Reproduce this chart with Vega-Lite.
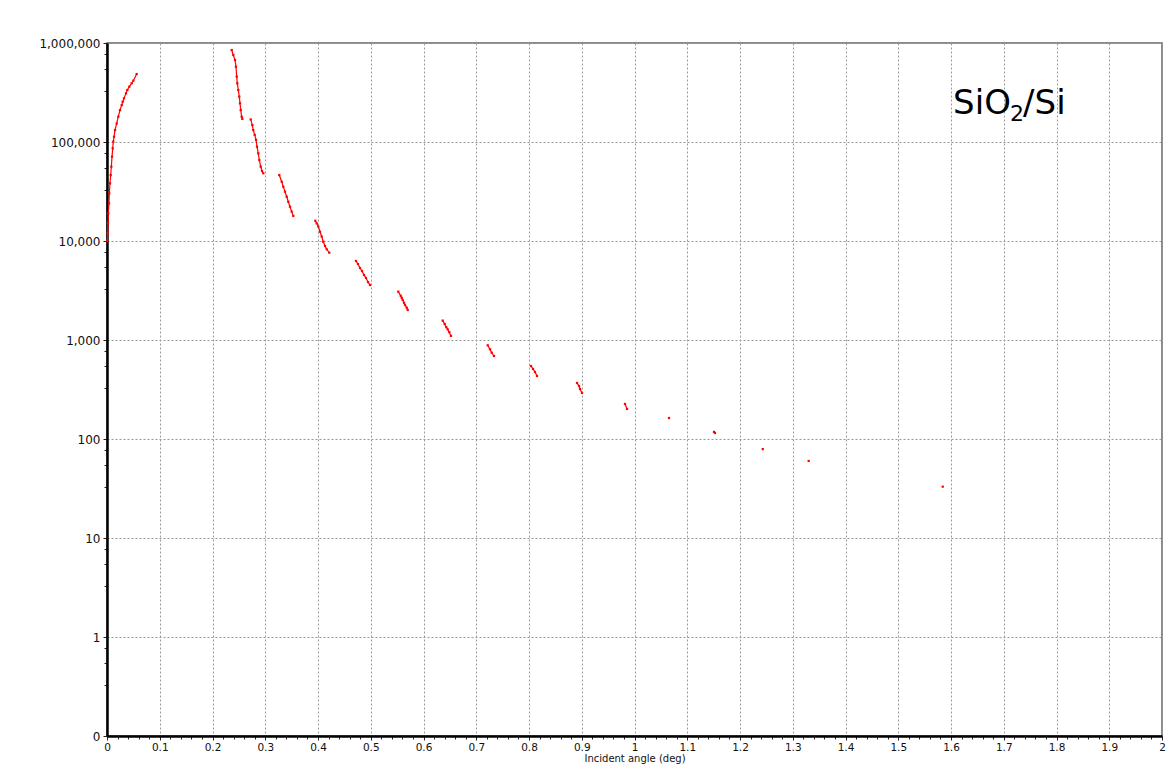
{
  "$schema": "https://vega.github.io/schema/vega-lite/v6.json",
  "width": 1055,
  "height": 693,
  "autosize": {"type": "none"},
  "padding": {"left": 107, "top": 43, "right": 12, "bottom": 29},
  "background": "white",
  "config": {
    "view": {"stroke": "#666", "strokeWidth": 1.5},
    "axis": {
      "labelFont": "DejaVu Sans",
      "labelFontSize": 11,
      "labelColor": "#111",
      "titleFont": "DejaVu Sans",
      "titleFontSize": 10,
      "titleFontWeight": "normal",
      "titleColor": "#111",
      "domainColor": "#000",
      "domainWidth": 2.5,
      "tickColor": "#222",
      "tickWidth": 1,
      "tickSize": 4,
      "gridColor": "#999",
      "gridDash": [2, 2],
      "gridWidth": 1,
      "labelFlush": false,
      "labelOverlap": false
    }
  },
  "datasets": {
    "pts": [
      {"seg": 0, "angle": 0.0006, "intensity": 10000},
      {"seg": 0, "angle": 0.0013, "intensity": 12000},
      {"seg": 0, "angle": 0.0019, "intensity": 15100},
      {"seg": 0, "angle": 0.0025, "intensity": 19000},
      {"seg": 0, "angle": 0.0038, "intensity": 24000},
      {"seg": 0, "angle": 0.0044, "intensity": 30300},
      {"seg": 0, "angle": 0.0057, "intensity": 38300},
      {"seg": 0, "angle": 0.0070, "intensity": 46400},
      {"seg": 0, "angle": 0.0082, "intensity": 56300},
      {"seg": 0, "angle": 0.0095, "intensity": 71100},
      {"seg": 0, "angle": 0.0108, "intensity": 86300},
      {"seg": 0, "angle": 0.0119, "intensity": 100700},
      {"seg": 0, "angle": 0.0133, "intensity": 113000},
      {"seg": 0, "angle": 0.0152, "intensity": 132000},
      {"seg": 0, "angle": 0.0184, "intensity": 154000},
      {"seg": 0, "angle": 0.0214, "intensity": 180000},
      {"seg": 0, "angle": 0.0246, "intensity": 210000},
      {"seg": 0, "angle": 0.0279, "intensity": 236000},
      {"seg": 0, "angle": 0.0298, "intensity": 255000},
      {"seg": 0, "angle": 0.0322, "intensity": 276000},
      {"seg": 0, "angle": 0.0360, "intensity": 310000},
      {"seg": 0, "angle": 0.0385, "intensity": 335000},
      {"seg": 0, "angle": 0.0423, "intensity": 362000},
      {"seg": 0, "angle": 0.0468, "intensity": 392000},
      {"seg": 0, "angle": 0.0499, "intensity": 416000},
      {"seg": 0, "angle": 0.0563, "intensity": 486000},
      {"seg": 1, "angle": 0.2364, "intensity": 849000},
      {"seg": 1, "angle": 0.2394, "intensity": 757000},
      {"seg": 1, "angle": 0.2427, "intensity": 673000},
      {"seg": 1, "angle": 0.2445, "intensity": 576000},
      {"seg": 1, "angle": 0.2459, "intensity": 457000},
      {"seg": 1, "angle": 0.2470, "intensity": 392000},
      {"seg": 1, "angle": 0.2489, "intensity": 335000},
      {"seg": 1, "angle": 0.2508, "intensity": 287000},
      {"seg": 1, "angle": 0.2521, "intensity": 246000},
      {"seg": 1, "angle": 0.2535, "intensity": 210000},
      {"seg": 1, "angle": 0.2553, "intensity": 180000},
      {"seg": 1, "angle": 0.2565, "intensity": 171000},
      {"seg": 2, "angle": 0.2724, "intensity": 169000},
      {"seg": 2, "angle": 0.2755, "intensity": 148000},
      {"seg": 2, "angle": 0.2773, "intensity": 132000},
      {"seg": 2, "angle": 0.2800, "intensity": 118000},
      {"seg": 2, "angle": 0.2825, "intensity": 105000},
      {"seg": 2, "angle": 0.2844, "intensity": 89700},
      {"seg": 2, "angle": 0.2868, "intensity": 76900},
      {"seg": 2, "angle": 0.2887, "intensity": 65800},
      {"seg": 2, "angle": 0.2914, "intensity": 56300},
      {"seg": 2, "angle": 0.2938, "intensity": 50900},
      {"seg": 2, "angle": 0.2963, "intensity": 48300},
      {"seg": 3, "angle": 0.3266, "intensity": 46400},
      {"seg": 3, "angle": 0.3312, "intensity": 39700},
      {"seg": 3, "angle": 0.3342, "intensity": 35300},
      {"seg": 3, "angle": 0.3374, "intensity": 31500},
      {"seg": 3, "angle": 0.3407, "intensity": 28000},
      {"seg": 3, "angle": 0.3437, "intensity": 24900},
      {"seg": 3, "angle": 0.3469, "intensity": 22200},
      {"seg": 3, "angle": 0.3501, "intensity": 19800},
      {"seg": 3, "angle": 0.3532, "intensity": 17900},
      {"seg": 4, "angle": 0.3949, "intensity": 16000},
      {"seg": 4, "angle": 0.3975, "intensity": 15100},
      {"seg": 4, "angle": 0.4006, "intensity": 14000},
      {"seg": 4, "angle": 0.4038, "intensity": 12400},
      {"seg": 4, "angle": 0.4070, "intensity": 11100},
      {"seg": 4, "angle": 0.4100, "intensity": 9840},
      {"seg": 4, "angle": 0.4133, "intensity": 8900},
      {"seg": 4, "angle": 0.4165, "intensity": 8250},
      {"seg": 4, "angle": 0.4214, "intensity": 7620},
      {"seg": 5, "angle": 0.4720, "intensity": 6280},
      {"seg": 5, "angle": 0.4758, "intensity": 5860},
      {"seg": 5, "angle": 0.4796, "intensity": 5340},
      {"seg": 5, "angle": 0.4834, "intensity": 4980},
      {"seg": 5, "angle": 0.4872, "intensity": 4540},
      {"seg": 5, "angle": 0.4910, "intensity": 4230},
      {"seg": 5, "angle": 0.4948, "intensity": 3850},
      {"seg": 5, "angle": 0.4986, "intensity": 3590},
      {"seg": 6, "angle": 0.5522, "intensity": 3080},
      {"seg": 6, "angle": 0.5568, "intensity": 2800},
      {"seg": 6, "angle": 0.5587, "intensity": 2670},
      {"seg": 6, "angle": 0.5606, "intensity": 2540},
      {"seg": 6, "angle": 0.5630, "intensity": 2380},
      {"seg": 6, "angle": 0.5649, "intensity": 2260},
      {"seg": 6, "angle": 0.5682, "intensity": 2120},
      {"seg": 6, "angle": 0.5701, "intensity": 2010},
      {"seg": 7, "angle": 0.6364, "intensity": 1570},
      {"seg": 7, "angle": 0.6402, "intensity": 1450},
      {"seg": 7, "angle": 0.6432, "intensity": 1350},
      {"seg": 7, "angle": 0.6459, "intensity": 1280},
      {"seg": 7, "angle": 0.6489, "intensity": 1200},
      {"seg": 7, "angle": 0.6521, "intensity": 1100},
      {"seg": 8, "angle": 0.7217, "intensity": 884},
      {"seg": 8, "angle": 0.7261, "intensity": 805},
      {"seg": 8, "angle": 0.7293, "intensity": 745},
      {"seg": 8, "angle": 0.7336, "intensity": 689},
      {"seg": 9, "angle": 0.8038, "intensity": 546},
      {"seg": 9, "angle": 0.8076, "intensity": 510},
      {"seg": 9, "angle": 0.8114, "intensity": 475},
      {"seg": 9, "angle": 0.8152, "intensity": 433},
      {"seg": 10, "angle": 0.8910, "intensity": 368},
      {"seg": 10, "angle": 0.8948, "intensity": 343},
      {"seg": 10, "angle": 0.8967, "intensity": 320},
      {"seg": 10, "angle": 0.9005, "intensity": 292},
      {"seg": 11, "angle": 0.9820, "intensity": 226},
      {"seg": 11, "angle": 0.9858, "intensity": 201},
      {"seg": 12, "angle": 1.0654, "intensity": 163},
      {"seg": 13, "angle": 1.1507, "intensity": 118},
      {"seg": 13, "angle": 1.1526, "intensity": 115},
      {"seg": 14, "angle": 1.2431, "intensity": 79},
      {"seg": 15, "angle": 1.3302, "intensity": 60},
      {"seg": 16, "angle": 1.5843, "intensity": 33}
    ],
    "lbl": [
      {"angle": 1.604, "intensity": 190000, "main": "SiO", "sub": "2", "rest": "/Si"}
    ]
  },
  "data": {"name": "pts"},
  "encoding": {
    "x": {
      "field": "angle",
      "type": "quantitative",
      "title": "Incident angle (deg)",
      "scale": {"domain": [0, 2], "nice": false, "zero": false},
      "axis": {
        "values": [0,0.02,0.04,0.06,0.08,0.1,0.12,0.14,0.16,0.18,0.2,0.22,0.24,0.26,0.28,0.3,0.32,0.34,0.36,0.38,0.4,0.42,0.44,0.46,0.48,0.5,0.52,0.54,0.56,0.58,0.6,0.62,0.64,0.66,0.68,0.7,0.72,0.74,0.76,0.78,0.8,0.82,0.84,0.86,0.88,0.9,0.92,0.94,0.96,0.98,1,1.02,1.04,1.06,1.08,1.1,1.12,1.14,1.16,1.18,1.2,1.22,1.24,1.26,1.28,1.3,1.32,1.34,1.36,1.38,1.4,1.42,1.44,1.46,1.48,1.5,1.52,1.54,1.56,1.58,1.6,1.62,1.64,1.66,1.68,1.7,1.72,1.74,1.76,1.78,1.8,1.82,1.84,1.86,1.88,1.9,1.92,1.94,1.96,1.98,2],
        "labelExpr": "abs(datum.value*10 - round(datum.value*10)) < 0.001 ? format(datum.value, '.1~f') : ''",
        "gridOpacity": {"condition": {"test": "abs(datum.value*10 - round(datum.value*10)) < 0.001", "value": 1}, "value": 0},
        "tickSize": {"condition": {"test": "abs(datum.value*10 - round(datum.value*10)) < 0.001", "value": 4}, "value": 3},
        "labelFontSize": 10.5,
        "labelPadding": 2,
        "titlePadding": 1
      }
    },
    "y": {
      "field": "intensity",
      "type": "quantitative",
      "title": null,
      "scale": {"type": "log", "domain": [0.1, 1000000], "nice": false},
      "axis": {
        "values": [0.1,0.33,0.54,0.78,1,3.3,5.4,7.8,10,33,54,78,100,330,540,780,1000,3300,5400,7800,10000,33000,54000,78000,100000,330000,540000,780000,1000000],
        "labelExpr": "abs(log(datum.value)/LN10 - round(log(datum.value)/LN10)) > 0.01 ? '' : (datum.value < 0.5 ? '0' : format(datum.value, ','))",
        "gridOpacity": {"condition": {"test": "abs(log(datum.value)/LN10 - round(log(datum.value)/LN10)) < 0.01", "value": 1}, "value": 0},
        "tickSize": {"condition": {"test": "abs(log(datum.value)/LN10 - round(log(datum.value)/LN10)) < 0.01", "value": 4}, "value": 3},
        "labelFontSize": 12,
        "labelPadding": 3
      }
    }
  },
  "layer": [
    {
      "mark": {"type": "line", "color": "#ff0000", "strokeWidth": 1.2},
      "encoding": {"detail": {"field": "seg", "type": "nominal"}}
    },
    {
      "mark": {"type": "square", "color": "#ff0000", "filled": true, "size": 5, "opacity": 1}
    },
    {
      "data": {"name": "lbl"},
      "mark": {"type": "text", "font": "DejaVu Sans", "fontSize": 34, "align": "left", "baseline": "alphabetic", "color": "#000"},
      "encoding": {"text": {"field": "main", "type": "nominal"}}
    },
    {
      "data": {"name": "lbl"},
      "mark": {"type": "text", "font": "DejaVu Sans", "fontSize": 22, "align": "left", "baseline": "alphabetic", "color": "#000", "dx": 57, "dy": 7},
      "encoding": {"text": {"field": "sub", "type": "nominal"}}
    },
    {
      "data": {"name": "lbl"},
      "mark": {"type": "text", "font": "DejaVu Sans", "fontSize": 34, "align": "left", "baseline": "alphabetic", "color": "#000", "dx": 70},
      "encoding": {"text": {"field": "rest", "type": "nominal"}}
    }
  ]
}
